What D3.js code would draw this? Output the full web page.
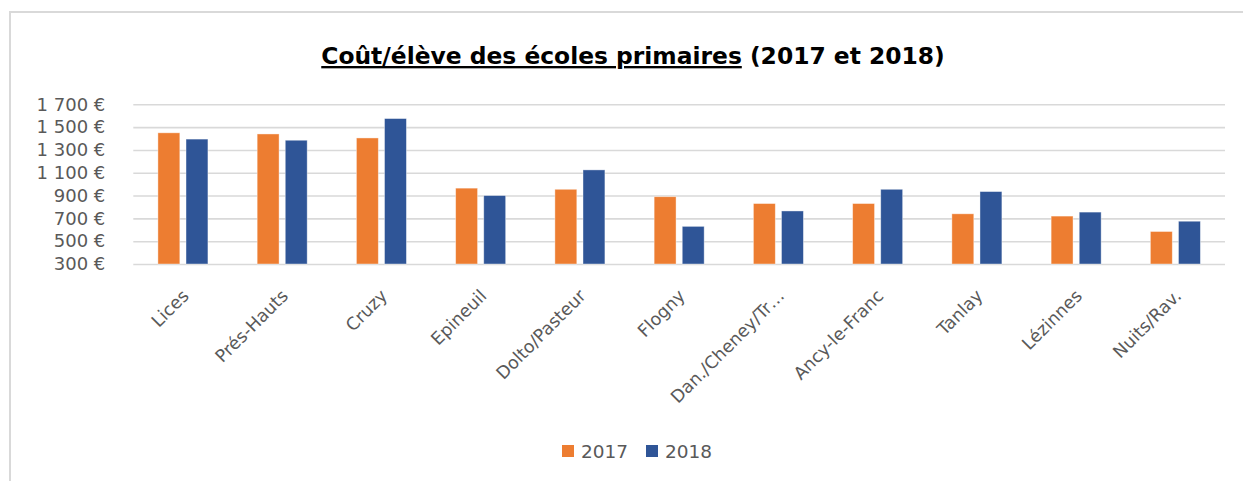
<!DOCTYPE html>
<html>
<head>
<meta charset="utf-8">
<script src="https://cdn.jsdelivr.net/npm/d3@7"></script>
<style>
  body { margin: 0; background: #fff; }
  svg { display: block; }
</style>
</head>
<body>
<div id="chart"></div>
<script>
// data
const categories = ["Lices", "Prés-Hauts", "Cruzy", "Epineuil", "Dolto/Pasteur", "Flogny",
  "Dan./Cheney/Tr…", "Ancy-le-Franc", "Tanlay", "Lézinnes", "Nuits/Rav."];
const years = ["2017", "2018"];
const values2017 = [1450, 1440, 1405, 965, 955, 890, 830, 830, 740, 720, 585];
const values2018 = [1395, 1385, 1575, 900, 1125, 630, 765, 955, 935, 755, 675];
const yTicks = [300, 500, 700, 900, 1100, 1300, 1500, 1700];

function main() {
  const width = 1243, height = 481;
  const colors = { "2017": "#ED7D31", "2018": "#2F5597" };
  const font = "'DejaVu Sans', sans-serif";

  const rows = categories.map((c, i) => ({ cat: c, "2017": values2017[i], "2018": values2018[i] }));

  const svg = d3.select("#chart").append("svg")
    .attr("width", width)
    .attr("height", height)
    .attr("font-family", font);

  // chart area frame (only top / left edges visible)
  svg.append("path")
    .attr("d", `M10,${height + 5} V12 H${width + 5}`)
    .attr("fill", "none")
    .attr("stroke", "#D9D9D9")
    .attr("stroke-width", 2);

  const x0 = d3.scaleBand()
    .domain(categories)
    .range([133.3, 1225])
    .paddingInner(0.496)
    .paddingOuter(0.248);

  const x1 = d3.scaleBand()
    .domain(years)
    .range([0, x0.bandwidth()])
    .paddingInner(0.22)
    .paddingOuter(0);

  const y = d3.scaleLinear()
    .domain([300, 1700])
    .range([264, 104.3]);

  const loc = d3.formatLocale({ decimal: ",", thousands: "\u00a0", grouping: [3], currency: ["", "€"] });
  const fmt = loc.format(",");

  // gridlines + y labels
  const yAxis = d3.axisLeft(y)
    .tickValues(yTicks)
    .tickSize(-(1225 - 133.3))
    .tickPadding(28)
    .tickFormat(d => fmt(d) + "\u00a0€");

  const gy = svg.append("g")
    .attr("transform", "translate(133.3,0)")
    .call(yAxis);
  gy.select(".domain").remove();
  gy.selectAll(".tick line")
    .attr("stroke", "#D9D9D9")
    .attr("stroke-width", 1.6);
  gy.selectAll(".tick text")
    .attr("fill", "#595959")
    .attr("font-size", 18)
    .attr("font-family", font);

  // bars
  const groups = svg.append("g")
    .selectAll("g")
    .data(rows)
    .join("g")
    .attr("transform", d => `translate(${x0(d.cat)},0)`);

  groups.selectAll("rect")
    .data(d => years.map(k => ({ key: k, value: d[k] })))
    .join("rect")
    .attr("x", d => x1(d.key))
    .attr("y", d => y(d.value))
    .attr("width", x1.bandwidth())
    .attr("height", d => y(300) - y(d.value))
    .attr("fill", d => colors[d.key])
    .attr("stroke", "#fff")
    .attr("stroke-opacity", 0.5)
    .attr("stroke-width", 0.8);

  // x labels rotated
  const xAxis = d3.axisBottom(x0).tickSize(0).tickPadding(0);
  const gx = svg.append("g")
    .attr("transform", "translate(0,264)")
    .call(xAxis);
  gx.select(".domain").remove();
  gx.selectAll(".tick text")
    .attr("fill", "#595959")
    .attr("font-size", 17.5)
    .attr("font-family", font)
    .attr("text-anchor", "end")
    .attr("dy", 0)
    .attr("y", 0)
    .attr("transform", "translate(7,33) rotate(-45)");

  // title
  const title = svg.append("text")
    .attr("x", 633)
    .attr("y", 64)
    .attr("text-anchor", "middle")
    .attr("font-weight", "bold")
    .attr("fill", "#000")
    .attr("font-size", 22);
  title.append("tspan")
    .attr("text-decoration", "underline")
    .text("Coût/élève des écoles primaires");
  title.append("tspan").text(" (2017 et 2018)");
  const tw = title.node().getComputedTextLength();
  title.attr("font-size", 22 * 624 / tw);

  // legend
  const legend = svg.append("g").attr("transform", "translate(562,0)");
  const items = legend.selectAll("g")
    .data(years)
    .join("g")
    .attr("transform", (d, i) => `translate(${i * 84},0)`);
  items.append("rect")
    .attr("x", 0)
    .attr("y", 445)
    .attr("width", 12)
    .attr("height", 12)
    .attr("fill", d => colors[d]);
  items.append("text")
    .attr("x", 19)
    .attr("y", 458)
    .attr("fill", "#595959")
    .attr("font-size", 18.5)
    .text(d => d);
}

main();
</script>
</body>
</html>
